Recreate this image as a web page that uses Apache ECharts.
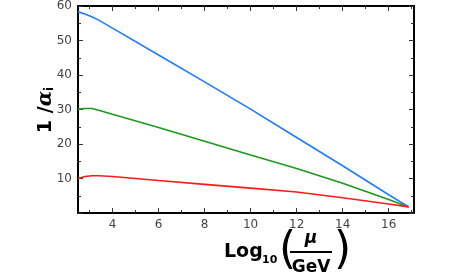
<!DOCTYPE html>
<html><head><meta charset="utf-8">
<script src="https://cdn.jsdelivr.net/npm/echarts@6/dist/echarts.min.js"></script>
<style>html,body{margin:0;padding:0;background:#fff}#c{width:450px;height:278px}</style>
</head><body><div id="c"></div>
<script>
const logMu = [2.5, 2.8, 3.1, 3.4, 4, 6, 8, 10, 12, 14, 16, 16.87];
const inv1 = [58.3, 57.7, 56.9, 55.9, 53.6, 45.8, 38.0, 30.1, 21.9, 13.7, 5.3, 1.77];
const inv2 = [30.1, 30.3, 30.3, 29.8, 28.6, 24.8, 20.8, 16.8, 12.9, 8.6, 3.9, 1.77];
const inv3 = [10.0, 10.6, 10.8, 10.8, 10.6, 9.4, 8.3, 7.2, 6.1, 4.4, 2.6, 1.77];
const xMajor = [4, 6, 8, 10, 12, 14, 16];
const xMinor = [3, 5, 7, 9, 11, 13, 15, 17];
const yTicks = [10, 20, 30, 40, 50, 60];

const pairs = ys => logMu.map((x, i) => [x, ys[i]]);
const lab = {color:'#444', fontSize:12, fontFamily:'DejaVu Sans'};
function xa(pos, ticks, len, line, labels){
  return {type:'value', position:pos, min:2.5, max:17.1,
    axisLine:{show:line, onZero:false, lineStyle:{color:'#000', width:2}},
    axisTick:{show:true, inside:true, length:len, customValues:ticks, lineStyle:{color:'#333'}},
    axisLabel:labels ? Object.assign({customValues:xMajor, margin:6}, lab) : {show:false},
    splitLine:{show:false}};
}
function ya(pos, labels){
  return {type:'value', position:pos, min:0, max:60, interval:10,
    axisLine:{show:true, onZero:false, lineStyle:{color:'#000', width:2}},
    axisTick:{show:true, inside:true, length:5, lineStyle:{color:'#333'}},
    minorTick:{show:true, splitNumber:2, length:3, lineStyle:{color:'#333'}},
    axisLabel:labels ? Object.assign({formatter:v => yTicks.includes(v) ? String(v) : '', margin:6}, lab) : {show:false},
    splitLine:{show:false}};
}
const chart = echarts.init(document.getElementById('c'), null, {renderer:'canvas'});
chart.setOption({
  animation:false,
  grid:{left:78, right:36, top:6, bottom:65, containLabel:false},
  xAxis:[xa('bottom', xMajor, 5, true, true), xa('bottom', xMinor, 3, false, false),
         xa('top', xMajor, 5, true, false), xa('top', xMinor, 3, false, false)],
  yAxis:[ya('left', true), ya('right', false)],
  series:[
    {type:'line', data:pairs(inv1), showSymbol:false, lineStyle:{color:'#1f7bff', width:1.6}, xAxisIndex:0, yAxisIndex:0},
    {type:'line', data:pairs(inv2), showSymbol:false, lineStyle:{color:'#1a9a1a', width:1.6}, xAxisIndex:0, yAxisIndex:0},
    {type:'line', data:pairs(inv3), showSymbol:false, lineStyle:{color:'#ff1a1a', width:1.6}, xAxisIndex:0, yAxisIndex:0}
  ],
  graphic:[
    {type:'text', x:46, y:110, rotation:Math.PI/2, style:{
      text:'{a|1}{b| /}{c|α}{d|i}', align:'center', verticalAlign:'middle',
      rich:{a:{font:'bold 19px DejaVu Sans', fill:'#000'},
            b:{font:'bold 19px DejaVu Sans', fill:'#000'},
            c:{font:'italic bold 20px DejaVu Serif', fill:'#000'},
            d:{font:'bold 12px DejaVu Sans', fill:'#000', verticalAlign:'bottom', padding:[8,0,0,0]}}}},
    {type:'text', x:224, y:252, style:{text:'Log', font:'bold 19px DejaVu Sans', fill:'#000', verticalAlign:'middle'}},
    {type:'text', x:262, y:260, style:{text:'10', font:'bold 11px DejaVu Sans', fill:'#000', verticalAlign:'middle'}},
    {type:'text', x:279, y:252, style:{text:'(', font:'44px DejaVu Sans', fill:'#000', verticalAlign:'middle'}},
    {type:'text', x:311, y:239, style:{text:'μ', font:'italic bold 17px DejaVu Sans', fill:'#000', align:'center', verticalAlign:'middle'}},
    {type:'line', shape:{x1:290, y1:252, x2:332, y2:252}, style:{stroke:'#000', lineWidth:2}},
    {type:'text', x:311, y:268, style:{text:'GeV', font:'bold 17px DejaVu Sans', fill:'#000', align:'center', verticalAlign:'middle'}},
    {type:'text', x:334, y:252, style:{text:')', font:'44px DejaVu Sans', fill:'#000', verticalAlign:'middle'}}
  ]
});
</script></body></html>
